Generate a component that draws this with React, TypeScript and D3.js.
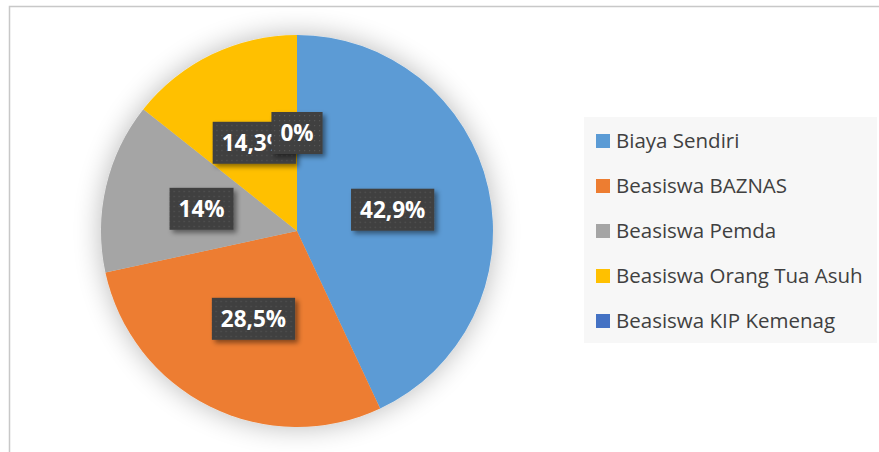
import React from "react";
import * as d3 from "d3";

const categories = ["Biaya Sendiri", "Beasiswa BAZNAS", "Beasiswa Pemda", "Beasiswa Orang Tua Asuh", "Beasiswa KIP Kemenag"];
const values = [42.9, 28.5, 14, 14.3, 0];
const labels = ["42,9%", "28,5%", "14%", "14,3%", "0%"];
const colors = ["#5B9BD5", "#ED7D31", "#A5A5A5", "#FFC000", "#4472C4"];

const W = 879, H = 452;
const cx = 297, cy = 231, R = 196;
const labelSize = 22.5;
const labelFont = `bold ${labelSize}px 'Open Sans'`;

function measure(text: string, font: string): number {
  const c = document.createElement("canvas").getContext("2d");
  if (!c) return text.length * 12;
  c.font = font;
  return c.measureText(text).width;
}

export default function App() {
  const pie = d3.pie<number>().sort(null).value((d) => d);
  const arcs = pie(values);
  const arc = d3.arc<d3.PieArcDatum<number>>().innerRadius(0).outerRadius(R);
  const labelArc = d3.arc<d3.PieArcDatum<number>>().innerRadius(R * 0.5).outerRadius(R * 0.5);

  const legendY = d3.scalePoint<number>().domain(d3.range(categories.length)).range([141, 321]);

  return (
    <svg width={W} height={H} style={{ position: "absolute", left: 0, top: 0 }} fontFamily="'Open Sans', sans-serif">
      <defs>
        <filter id="pieShadow" x="-30%" y="-30%" width="160%" height="160%">
          <feGaussianBlur in="SourceAlpha" stdDeviation="14" />
          <feComponentTransfer>
            <feFuncA type="linear" slope="0.28" />
          </feComponentTransfer>
          <feMerge>
            <feMergeNode />
            <feMergeNode in="SourceGraphic" />
          </feMerge>
        </filter>
        <filter id="boxShadow" x="-30%" y="-30%" width="160%" height="160%">
          <feDropShadow dx="3" dy="3" stdDeviation="2.5" floodColor="#000" floodOpacity="0.45" />
        </filter>
        <pattern id="dots" width="5" height="5" patternUnits="userSpaceOnUse">
          <rect width="5" height="5" fill="#404040" />
          <rect x="2" y="2" width="1.2" height="1.2" fill="#575757" />
        </pattern>
      </defs>
      <rect x={0} y={0} width={W} height={H} fill="#fff" />
      <path d={`M${9.5},${H} L9.5,6.5 L${W},6.5`} fill="none" stroke="#c8c8c8" strokeWidth={1.5} />

      <g transform={`translate(${cx},${cy})`} filter="url(#pieShadow)">
        {arcs.map((a, i) => (
          <path key={i} d={arc(a) || ""} fill={colors[i]} />
        ))}
      </g>

      <g transform={`translate(${cx},${cy})`}>
        {arcs.map((a, i) => {
          const [x, y] = labelArc.centroid(a);
          const tw = measure(labels[i], labelFont);
          const bw = tw + 18;
          const bh = 42;
          return (
            <g key={i} transform={`translate(${x},${y})`}>
              <rect x={-bw / 2} y={-bh / 2} width={bw} height={bh} fill="url(#dots)" filter="url(#boxShadow)" />
              <text x={0} y={0} dy="0.36em" textAnchor="middle" fill="#fff" fontSize={labelSize} fontWeight="bold">
                {labels[i]}
              </text>
            </g>
          );
        })}
      </g>

      <rect x={584} y={117} width={293} height={226} fill="#f7f7f7" />
      {categories.map((c, i) => (
        <g key={c} transform={`translate(596,${legendY(i)})`}>
          <rect x={0} y={-7} width={14} height={14} fill={colors[i]} />
          <text x={20} y={0} dy="0.35em" fontSize={20.5} fill="#404040">
            {c}
          </text>
        </g>
      ))}
    </svg>
  );
}
